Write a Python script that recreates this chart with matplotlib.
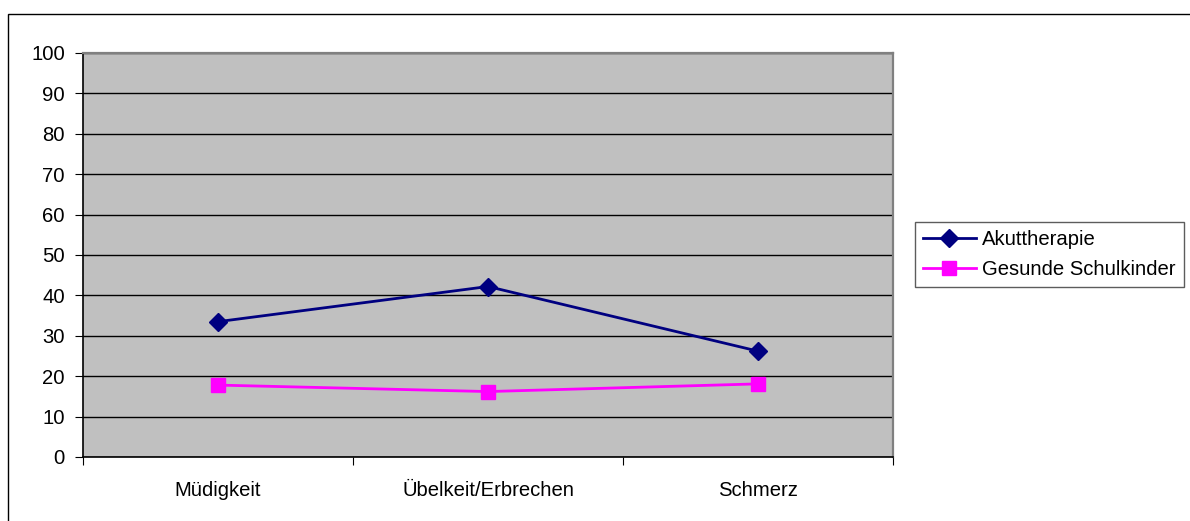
import matplotlib
matplotlib.use("Agg")
import matplotlib.pyplot as plt
from matplotlib.patches import Rectangle

categories = ["Müdigkeit", "Übelkeit/Erbrechen", "Schmerz"]
akut = [33.5, 42.2, 26.2]
gesund = [17.8, 16.2, 18.1]
series_names = ["Akuttherapie", "Gesunde Schulkinder"]
yticks = list(range(0, 101, 10))

plt.rcParams['font.family'] = ['Liberation Sans', 'DejaVu Sans']
FS = 14.6

W, H = 1190, 521
fig = plt.figure(figsize=(W/100, H/100), dpi=100)
fig.patch.set_facecolor('white')

# outer chart border (partially cropped)
fig.patches.append(Rectangle((8/W, -0.1), 1.2, (521-14)/H + 0.1, transform=fig.transFigure,
                             fill=False, edgecolor='black', linewidth=1.0))

ax = fig.add_axes([83/W, (H-457)/H, (893-83)/W, (457-53)/H])
ax.set_facecolor('#C0C0C0')

x = [0.5, 1.5, 2.5]
ax.plot(x, akut, color='#000080', linewidth=2, marker='D', markersize=9,
        markerfacecolor='#000080', markeredgecolor='#000080', label=series_names[0], zorder=3)
ax.plot(x, gesund, color='#FF00FF', linewidth=2, marker='s', markersize=10,
        markerfacecolor='#FF00FF', markeredgecolor='#FF00FF', label=series_names[1], zorder=3)

ax.set_xlim(0, 3)
ax.set_ylim(0, 100)
ax.set_yticks(yticks)
ax.set_yticklabels([str(v) for v in yticks])
ax.yaxis.grid(True, color='black', linewidth=1.0)
ax.set_axisbelow(True)

ax.set_xticks([0, 1, 2, 3])
ax.set_xticklabels([])
ax.set_xticks(x, minor=True)
ax.set_xticklabels(categories, minor=True)
ax.tick_params(axis='x', which='minor', length=0, pad=17, labelsize=FS)
ax.tick_params(axis='x', which='major', length=6, direction='out', color='black')
ax.tick_params(axis='y', length=6, direction='out', labelsize=FS, pad=7, color='black')

for s in ['top', 'right']:
    ax.spines[s].set_color('#808080')
    ax.spines[s].set_linewidth(1.6)
for s in ['left', 'bottom']:
    ax.spines[s].set_color('black')
    ax.spines[s].set_linewidth(1.2)

leg = fig.legend(loc='upper left', bbox_to_anchor=(915/W, (H-222)/H), frameon=True,
                 fancybox=False, edgecolor='#333333', fontsize=FS, handlelength=2.6,
                 borderpad=0.4, labelspacing=0.55, handletextpad=0.3, borderaxespad=0)
leg.get_frame().set_linewidth(1.0)

fig.savefig("out.png", dpi=100)
